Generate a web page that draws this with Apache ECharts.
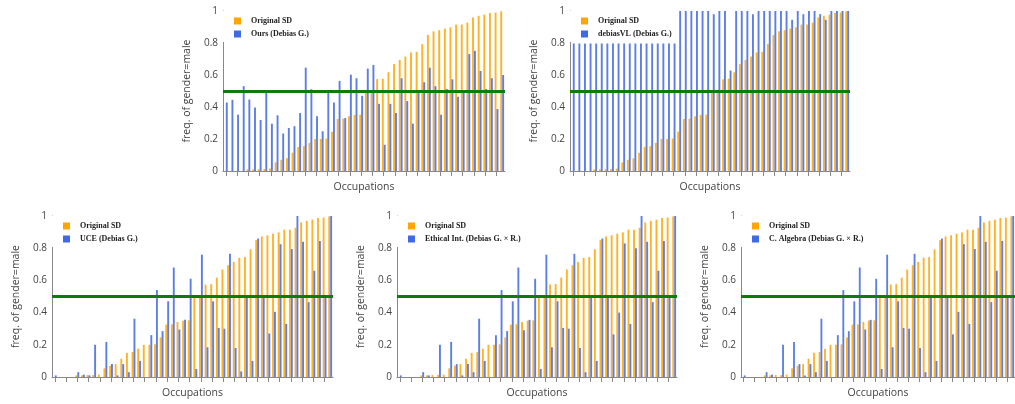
<!DOCTYPE html>
<html>
<head>
<meta charset="utf-8">
<script src="https://cdn.jsdelivr.net/npm/echarts@6/dist/echarts.min.js"></script>
<style>
  html, body { margin: 0; padding: 0; background: #fff; }
  #chart { width: 1015px; height: 404px; }
</style>
</head>
<body>
<div id="chart"></div>
<script>
// 50 occupations, sorted by the Original SD share
var occupations = [];
for (var k = 1; k <= 50; k++) occupations.push('occ' + k);

var originalSD = [0, 0, 0, 0, 0.01, 0.01, 0.012, 0.012, 0.015, 0.054,
  0.07, 0.08, 0.114, 0.15, 0.155, 0.176, 0.2, 0.2, 0.203, 0.246,
  0.325, 0.327, 0.342, 0.35, 0.352, 0.5, 0.505, 0.574, 0.577, 0.617,
  0.668, 0.694, 0.715, 0.741, 0.745, 0.793, 0.85, 0.873, 0.88, 0.89,
  0.898, 0.915, 0.915, 0.927, 0.96, 0.97, 0.977, 0.988, 0.99, 0.998];

var ours = [0.428, 0.445, 0.352, 0.53, 0.447, 0.397, 0.319, 0.503, 0.296, 0.348,
  0.234, 0.269, 0.28, 0.362, 0.646, 0.511, 0.342, 0.248, 0.5, 0.428,
  0.563, 0.331, 0.602, 0.58, 0.47, 0.64, 0.663, 0.42, 0.164, 0.42,
  0.362, 0.58, 0.437, 0.296, 0.489, 0.555, 0.646, 0.53, 0.352, 0.513,
  0.573, 0.464, 0.489, 0.731, 0.751, 0.625, 0.513, 0.58, 0.387, 0.6];

var debiasVL = [0.797, 0.797, 0.797, 0.797, 0.797, 0.797, 0.797, 0.797, 0.797, 0.797,
  0.797, 0.797, 0.797, 0.797, 0.797, 0.797, 0.797, 0.797, 0.797, 1,
  1, 1, 1, 1, 1, 0.98, 1, 1, 0.628, 1,
  1, 1, 0.98, 1, 1, 1, 1, 1, 1, 0.945,
  1, 0.98, 1, 1, 0.98, 0.945, 1, 1, 1, 1];

var uce = [0.01, 0, 0, 0, 0.03, 0.015, 0.01, 0.2, 0, 0.218,
  0.08, 0.01, 0.08, 0.03, 0.362, 0.1, 0, 0.26, 0.54, 0.285,
  0.47, 0.68, 0.295, 0.355, 0.61, 0.05, 0.76, 0.185, 0.47, 0.305,
  0.3, 0.765, 0.18, 0.035, 0.5, 0.1, 0.86, 0.5, 0.27, 0.405,
  0.825, 0.33, 0.795, 1, 0.84, 0.465, 0.66, 0.845, 0.5, 1];

var ethicalInt = [0.01, 0, 0, 0, 0.03, 0.01, 0, 0.2, 0, 0.218,
  0.08, 0.01, 0.08, 0.03, 0.362, 0.1, 0, 0.26, 0.54, 0.285,
  0.47, 0.68, 0.29, 0.355, 0.61, 0.05, 0.76, 0.185, 0.47, 0.305,
  0.3, 0.765, 0.18, 0.03, 0.5, 0.1, 0.86, 0.5, 0.265, 0.4,
  0.83, 0.33, 0.8, 1, 0.84, 0.465, 0.66, 0.845, 0.5, 1];

var cAlgebra = [0.01, 0, 0, 0, 0.03, 0.015, 0, 0.2, 0, 0.218,
  0.08, 0.01, 0.08, 0.03, 0.362, 0.1, 0, 0.26, 0.54, 0.285,
  0.47, 0.68, 0.295, 0.355, 0.61, 0.05, 0.76, 0.185, 0.47, 0.305,
  0.3, 0.765, 0.18, 0.03, 0.5, 0.1, 0.86, 0.5, 0.265, 0.405,
  0.825, 0.33, 0.795, 1, 0.84, 0.465, 0.66, 0.845, 0.5, 1];

var yTicks = [0, 0.2, 0.4, 0.6, 0.8, 1];

// one entry per subplot: legend name, values, grid box
var panels = [
  { name: 'Ours (Debias G.)', data: ours, left: 223, top: 11, width: 282, height: 160 },
  { name: 'debiasVL (Debias G.)', data: debiasVL, left: 570, top: 11, width: 280, height: 160 },
  { name: 'UCE (Debias G.)', data: uce, left: 52, top: 216, width: 281, height: 161 },
  { name: 'Ethical Int. (Debias G. \u00d7 R.)', data: ethicalInt, left: 397, top: 216, width: 280, height: 161 },
  { name: 'C. Algebra (Debias G. \u00d7 R.)', data: cAlgebra, left: 741, top: 216, width: 281, height: 161 }
];

var grids = [], xAxes = [], yAxes = [], series = [], legends = [];

panels.forEach(function (p, i) {
  grids.push({ left: p.left, top: p.top, width: p.width, height: p.height });
  xAxes.push({
    type: 'category',
    gridIndex: i,
    data: occupations,
    name: 'Occupations',
    nameLocation: 'middle',
    nameGap: 11,
    nameTextStyle: { color: '#444', fontSize: 10.5, fontFamily: 'Open Sans' },
    axisLine: { lineStyle: { color: '#888' } },
    axisTick: { show: true, alignWithLabel: true, interval: 1, length: 5, lineStyle: { color: '#888' } },
    axisLabel: { show: false }
  });
  yAxes.push({
    type: 'value',
    gridIndex: i,
    min: 0,
    max: 1,
    interval: 0.2,
    name: 'freq. of gender=male',
    nameLocation: 'middle',
    nameGap: 30,
    nameTextStyle: { color: '#444', fontSize: 10.5, fontFamily: 'Open Sans' },
    axisLine: { show: true, lineStyle: { color: '#888' } },
    axisTick: { show: false },
    splitLine: { show: false },
    axisLabel: {
      color: '#444', fontSize: 10, fontFamily: 'Open Sans', margin: 5,
      formatter: function (v) { return yTicks.indexOf(v) >= 0 ? String(v) : ''; }
    }
  });
  series.push({
    name: 'Original SD',
    type: 'bar',
    xAxisIndex: i,
    yAxisIndex: i,
    data: originalSD,
    itemStyle: { color: '#ffa500', opacity: 0.85 },
    barCategoryGap: '32%',
    barGap: '0%',
    animation: false
  });
  series.push({
    name: p.name,
    type: 'bar',
    xAxisIndex: i,
    yAxisIndex: i,
    data: p.data,
    itemStyle: { color: '#4169e1', opacity: 0.85 },
    barCategoryGap: '32%',
    barGap: '0%',
    animation: false,
    markLine: {
      silent: true,
      symbol: ['none', 'none'],
      label: { show: false },
      lineStyle: { color: '#0a7d0a', width: 3, type: 'solid', opacity: 1 },
      data: [{ yAxis: 0.5 }],
      animation: false
    }
  });
  legends.push({
    orient: 'vertical',
    left: p.left - 1,
    top: p.top,
    padding: [6, 3, 4, 12],
    backgroundColor: '#fff',
    icon: 'rect',
    itemWidth: 7,
    itemHeight: 7,
    itemGap: 5,
    selectedMode: false,
    itemStyle: { opacity: 1 },
    textStyle: {
      fontFamily: 'Liberation Serif', fontWeight: 'bold', fontSize: 8,
      lineHeight: 8, color: '#222', padding: [0, 0, 0, 5]
    },
    data: ['Original SD', p.name]
  });
});

var chart = echarts.init(document.getElementById('chart'));
chart.setOption({
  backgroundColor: '#fff',
  animation: false,
  grid: grids,
  xAxis: xAxes,
  yAxis: yAxes,
  legend: legends,
  series: series
});
</script>
</body>
</html>
